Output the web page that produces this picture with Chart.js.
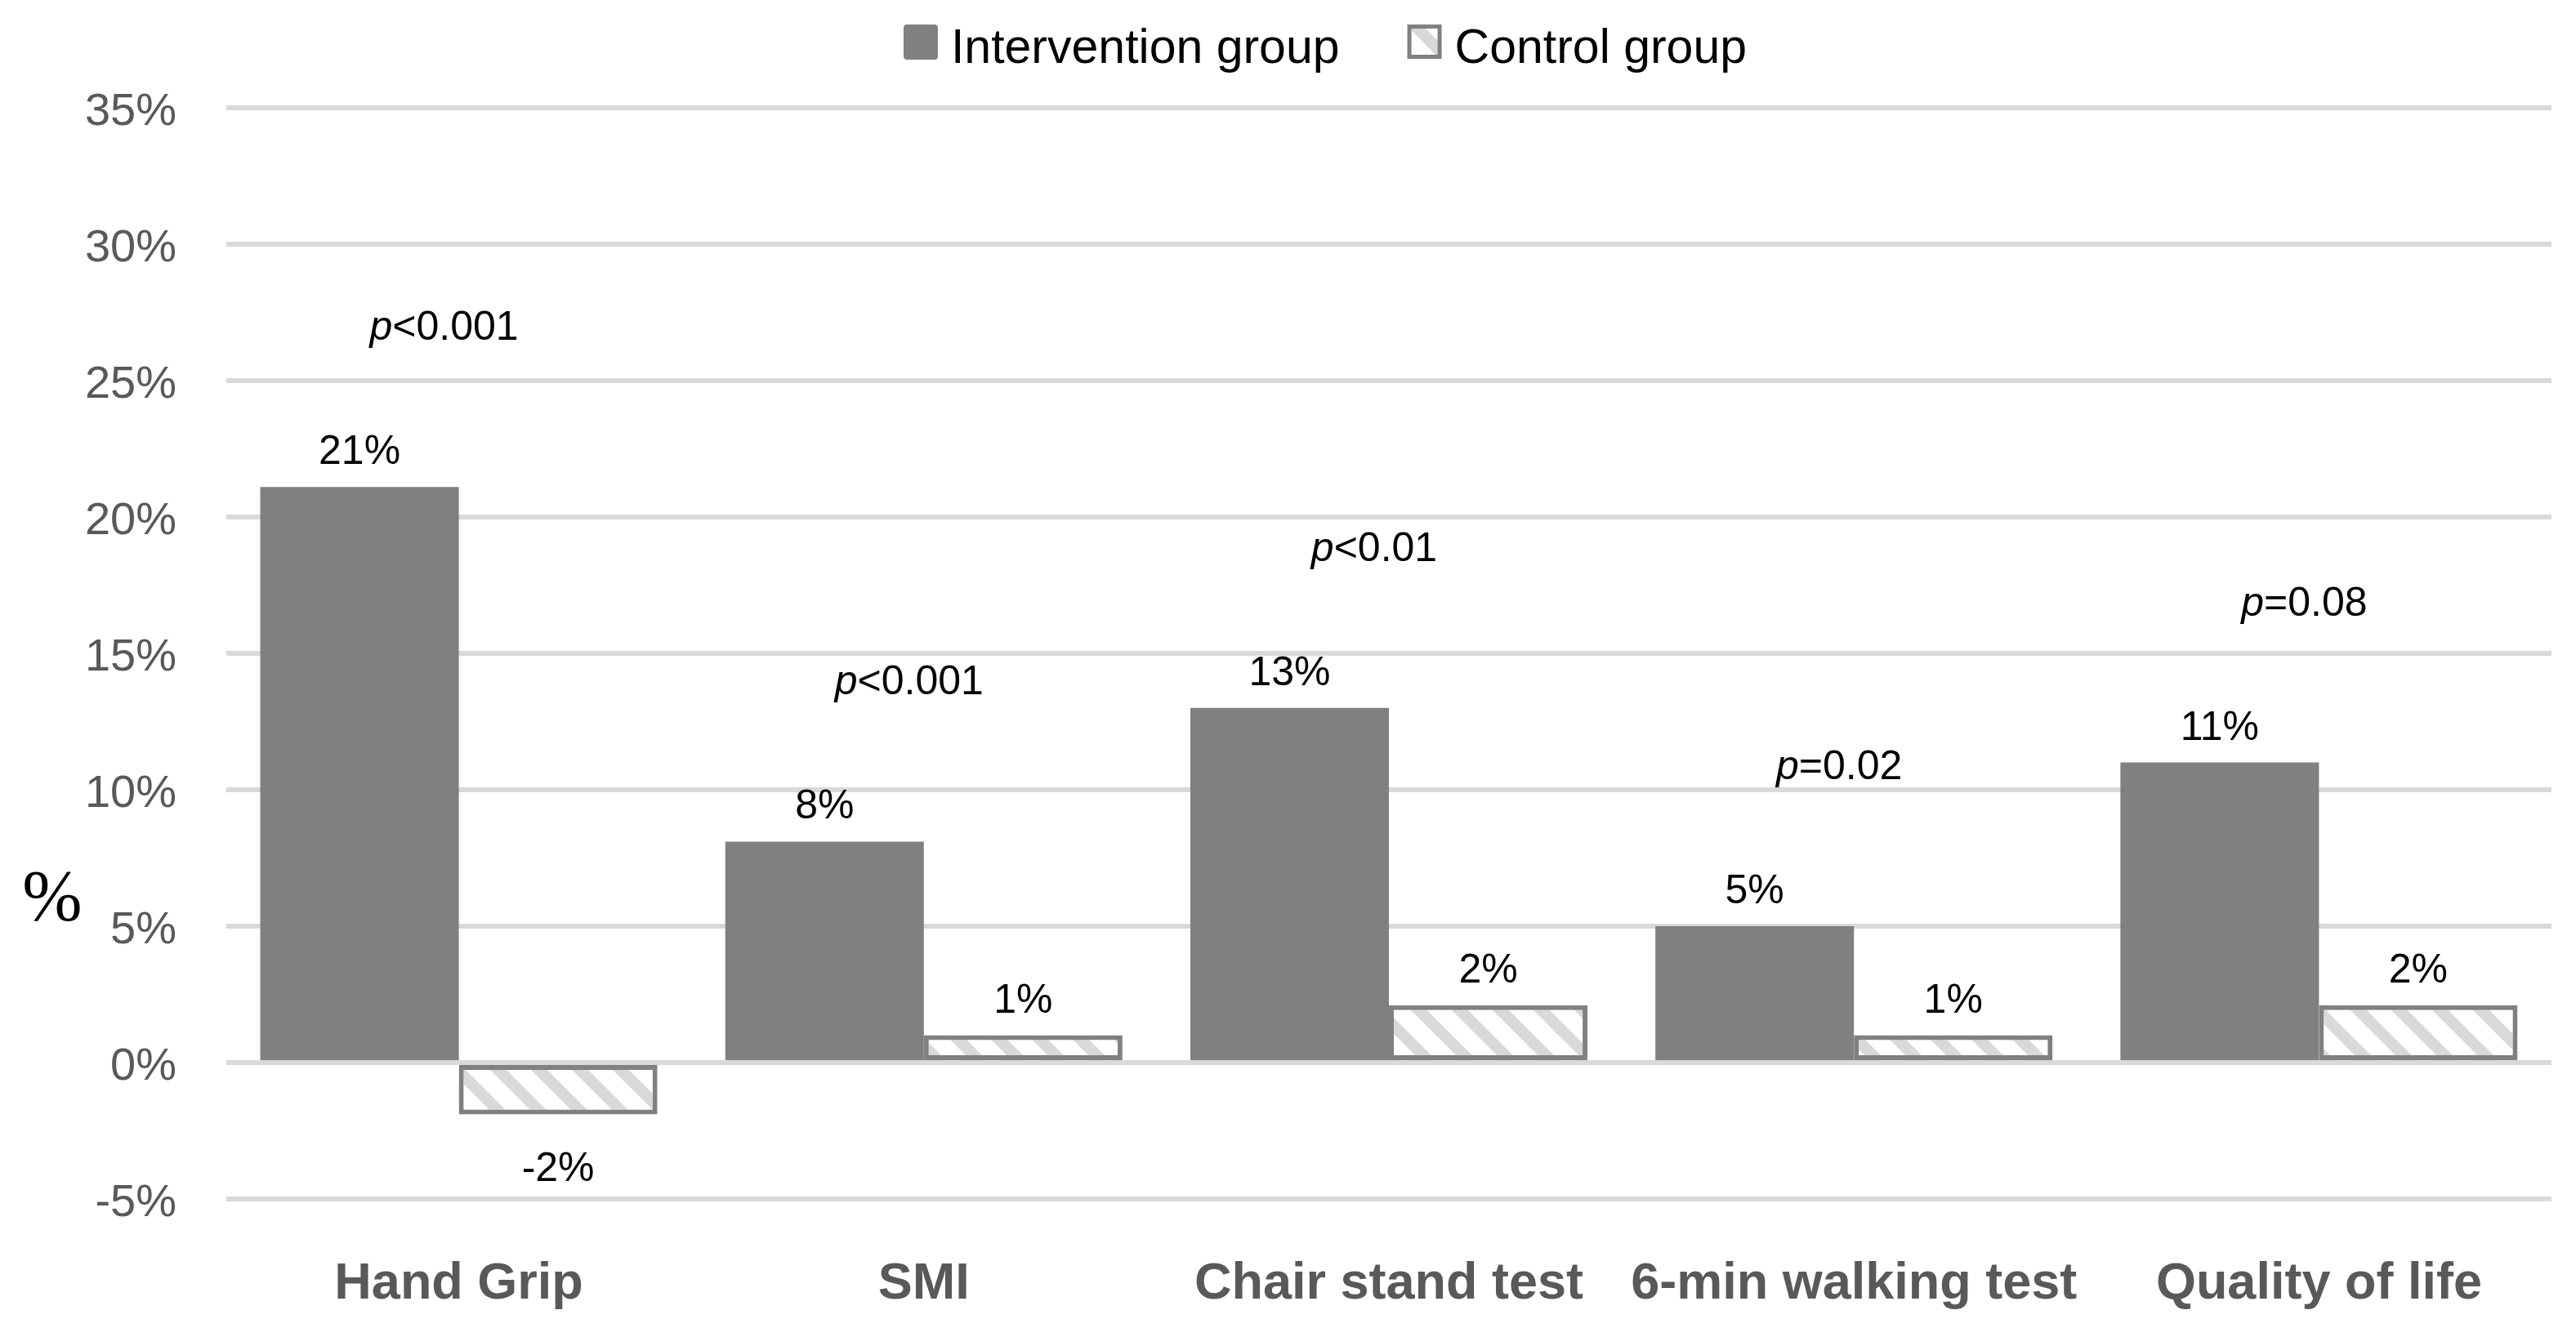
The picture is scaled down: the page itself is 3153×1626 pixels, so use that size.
<!DOCTYPE html>
<html>
<head>
<meta charset="utf-8">
<script src="https://cdn.jsdelivr.net/npm/chart.js@4.4.0/dist/chart.umd.min.js"></script>
<style>
  html, body { margin: 0; padding: 0; background: #fff; }
</style>
</head>
<body>
<canvas id="chart" width="3153" height="1626"></canvas>
<script>
const categories = ['Hand Grip', 'SMI', 'Chair stand test', '6-min walking test', 'Quality of life'];
const interventionValues = [21.1, 8.1, 13.0, 5.0, 11.0];
const controlValues = [-1.9, 1.0, 2.1, 1.0, 2.1];
const pLabels = ['<0.001', '<0.001', '<0.01', '=0.02', '=0.08'];
const seriesNames = ['Intervention group', 'Control group'];
const yMin = -5, yMax = 35, yStep = 5;

const FONT = '"Liberation Sans", Arial, sans-serif';
const canvas = document.getElementById('chart');
const ctx = canvas.getContext('2d');

// diagonal hatch like the excel "wide downward diagonal"
function makeHatch() {
  const t = document.createElement('canvas');
  t.width = 50; t.height = 50;
  const g = t.getContext('2d');
  g.fillStyle = '#fff';
  g.fillRect(0, 0, 50, 50);
  g.strokeStyle = '#d9d9d9';
  g.lineWidth = 14;
  for (let k = -1; k <= 1; k++) {
    g.beginPath();
    g.moveTo(k * 50 - 20, -20);
    g.lineTo(k * 50 + 70, 70);
    g.stroke();
  }
  return ctx.createPattern(t, 'repeat');
}
const hatch = makeHatch();

const extras = {
  id: 'extras',
  afterDatasetsDraw(chart) {
    const c = chart.ctx;
    c.save();
    c.fillStyle = '#000';
    c.textAlign = 'center';
    c.textBaseline = 'alphabetic';
    c.font = '50px ' + FONT;
    chart.data.datasets.forEach((ds, di) => {
      chart.getDatasetMeta(di).data.forEach((bar, i) => {
        const v = ds.data[i];
        const y = v >= 0 ? bar.y - 28 : bar.y + 82;
        c.fillText(Math.round(v) + '%', bar.x, y);
      });
    });

    // p-values above each pair
    const meta = chart.getDatasetMeta(0);
    pLabels.forEach((p, i) => {
      const cx = chart.scales.x.getPixelForValue(i) - 18;
      const y = meta.data[i].y - 180;
      c.font = 'italic 50px ' + FONT;
      const w1 = c.measureText('p').width;
      c.font = '50px ' + FONT;
      const w2 = c.measureText(p).width;
      let x = cx - (w1 + w2) / 2;
      c.textAlign = 'left';
      c.font = 'italic 50px ' + FONT;
      c.fillText('p', x, y);
      c.font = '50px ' + FONT;
      c.fillText(p, x + w1, y);
    });
    c.restore();
  },
  afterDraw(chart) {
    const c = chart.ctx;
    c.save();
    // legend
    c.font = '59px ' + FONT;
    const ds = chart.data.datasets;
    const box = 42, gap = 16, itemGap = 83;
    const widths = ds.map(d => c.measureText(d.label).width);
    const total = widths.reduce((s, w) => s + box + gap + w, 0) + itemGap * (ds.length - 1);
    let x = 1622 - total / 2;
    ds.forEach((d, i) => {
      if (d.borderWidth) {
        c.fillStyle = d.backgroundColor;
        c.fillRect(x, 30, box, box);
        c.strokeStyle = d.borderColor;
        c.lineWidth = 5;
        c.strokeRect(x + 2.5, 32.5, box - 5, box - 5);
      } else {
        c.fillStyle = d.backgroundColor;
        c.beginPath();
        c.roundRect(x, 30, box, box + 1, 4);
        c.fill();
      }
      c.fillStyle = '#000';
      c.textAlign = 'left';
      c.textBaseline = 'alphabetic';
      c.fillText(d.label, x + box + gap, 77);
      x += box + gap + widths[i] + itemGap;
    });

    // horizontal "%" axis title
    c.font = '88px "Liberation Serif", "Times New Roman", serif';
    c.fillStyle = '#000';
    c.textAlign = 'center';
    c.fillText('%', 64, 1126);
    c.restore();
  }
};

new Chart(ctx, {
  type: 'bar',
  data: {
    labels: categories,
    datasets: [
      {
        label: seriesNames[0],
        data: interventionValues,
        backgroundColor: '#808080',
        borderWidth: 0,
        barPercentage: 1,
        categoryPercentage: 0.854
      },
      {
        label: seriesNames[1],
        data: controlValues,
        backgroundColor: hatch,
        borderColor: '#808080',
        borderWidth: 6,
        borderSkipped: false,
        barPercentage: 1,
        categoryPercentage: 0.854
      }
    ]
  },
  options: {
    responsive: false,
    animation: false,
    devicePixelRatio: 1,
    layout: { padding: { left: 104, right: 30, top: 132, bottom: 23 } },
    plugins: {
      legend: { display: false },
      tooltip: { enabled: false }
    },
    scales: {
      x: {
        grid: { display: false },
        border: { display: false },
        afterFit: s => { s.height = 135; },
        ticks: {
          color: '#595959',
          font: { family: FONT, size: 63, weight: 'bold' },
          padding: 59,
          maxRotation: 0,
          autoSkip: false
        }
      },
      y: {
        min: yMin,
        max: yMax,
        grid: { color: '#d9d9d9', lineWidth: 6, drawTicks: false },
        border: { display: false },
        afterFit: s => { s.width = 173; },
        ticks: {
          stepSize: yStep,
          color: '#595959',
          font: { family: FONT, size: 56 },
          padding: 61,
          labelOffset: 6,
          callback: v => v + '%'
        }
      }
    }
  },
  plugins: [extras]
});
</script>
</body>
</html>
